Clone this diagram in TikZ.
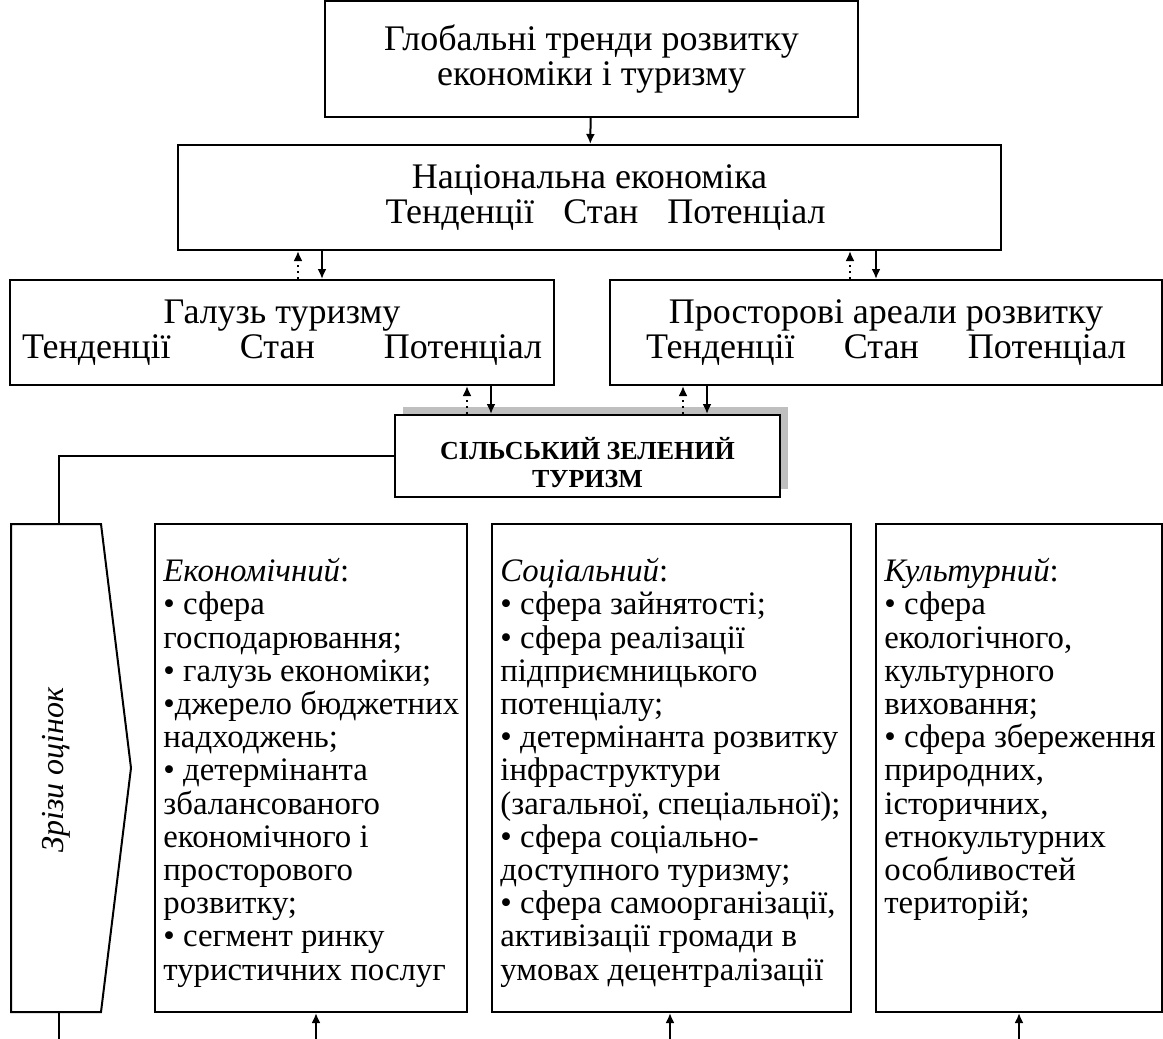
\documentclass[tikz,border=0pt]{standalone}
\usepackage{fontspec}
\setmainfont{Liberation Serif}
\usetikzlibrary{arrows.meta}
\definecolor{gray1}{rgb}{0.75,0.75,0.75}

\begin{document}
\begin{tikzpicture}[x=0.5pt,y=-0.5pt,>={Latex[length=5pt,width=4.5pt]},
  box/.style={draw,line width=1pt,inner sep=0pt,fill=white},
  txt/.style={font=\fontsize{18}{17.7}\selectfont,align=center},
  list/.style={font=\fontsize{16.4}{16.6}\selectfont,align=left,inner sep=0pt,anchor=north west},
  dn/.style={->,line width=1pt},
  up/.style={->,line width=1pt,dotted}]

  \useasboundingbox (0,0) rectangle (1163,1039);

  % upper level
  \node[box,txt,minimum width=266.5pt,minimum height=58pt] (glob) at (591.5,59)
    {Глобальні тренди розвитку\\економіки і туризму};
  \node[box,txt,minimum width=411.5pt,minimum height=52.5pt] (nat) at (589.5,197.5)
    {Національна економіка\\\hspace*{16pt}\makebox[220pt]{Тенденції\hfill Стан\hfill Потенціал}};
  \node[box,txt,minimum width=272pt,minimum height=52.5pt] (gal) at (282,332.5)
    {Галузь туризму\\\makebox[260pt]{Тенденції\hfill Стан\hfill Потенціал}};
  \node[box,txt,minimum width=276pt,minimum height=52.5pt] (pro) at (886,332.5)
    {Просторові ареали розвитку\\\makebox[240pt]{Тенденції\hfill Стан\hfill Потенціал}};

  % central box with shadow
  \fill[gray1] (403,407) rectangle (788,489);
  \node[box,minimum width=192.5pt,minimum height=41pt] (szt) at (587.5,456) {};
  \node[font=\fontsize{13}{14}\selectfont\bfseries,align=center] (sztt) at (587.5,463)
    {СІЛЬСЬКИЙ ЗЕЛЕНИЙ\\ТУРИЗМ};

  % arrows
  \draw[dn] (glob) -- (nat);
  \coordinate (a1) at (298,0);
  \coordinate (a2) at (322,0);
  \coordinate (a3) at (850,0);
  \coordinate (a4) at (876,0);
  \coordinate (a5) at (467,0);
  \coordinate (a6) at (491,0);
  \coordinate (a7) at (683,0);
  \coordinate (a8) at (707,0);
  \draw[up] (gal.north -| a1) -- (nat.south -| a1);
  \draw[dn] (nat.south -| a2) -- (gal.north -| a2);
  \draw[up] (pro.north -| a3) -- (nat.south -| a3);
  \draw[dn] (nat.south -| a4) -- (pro.north -| a4);
  \draw[up] (szt.north -| a5) -- (gal.south -| a5);
  \draw[dn] (gal.south -| a6) -- (szt.north -| a6);
  \draw[up] (szt.north -| a7) -- (pro.south -| a7);
  \draw[dn] (pro.south -| a8) -- (szt.north -| a8);

  % slices
  \coordinate (ptop) at (59,524);
  \coordinate (pbot) at (59,1012);
  \coordinate (pend) at (59,1039);
  \draw[line width=1pt] (11,524) -- (101,524) -- (131,768) -- (101,1012) -- (11,1012) -- cycle;
  \node[font=\fontsize{16}{18}\selectfont\itshape,rotate=90] (zriz) at (56,770) {Зрізи оцінок};
  \draw[line width=1pt] (szt.west) -| (ptop);
  \draw[line width=1pt] (pbot) -- (pend);

  \node[box,minimum width=156pt,minimum height=244pt] (eko) at (311,768) {};
  \node[box,minimum width=179.5pt,minimum height=244pt] (soc) at (671.5,768) {};
  \node[box,minimum width=143pt,minimum height=244pt] (kul) at (1019,768) {};

  \node[list] (ekot) at (163,558) {\textit{Економічний}:\\
    • сфера\\
    господарювання;\\
    • галузь економіки;\\
    •джерело бюджетних\\
    надходжень;\\
    • детермінанта\\
    збалансованого\\
    економічного і\\
    просторового\\
    розвитку;\\
    • сегмент ринку\\
    туристичних послуг};
  \node[list] (soct) at (500,558) {\textit{Соціальний}:\\
    • сфера зайнятості;\\
    • сфера реалізації\\
    підприємницького\\
    потенціалу;\\
    • детермінанта розвитку\\
    інфраструктури\\
    (загальної, спеціальної);\\
    • сфера соціально-\\
    доступного туризму;\\
    • сфера самоорганізації,\\
    активізації громади в\\
    умовах децентралізації};
  \node[list] (kult) at (884,558) {\textit{Культурний}:\\
    • сфера\\
    екологічного,\\
    культурного\\
    виховання;\\
    • сфера збереження\\
    природних,\\
    історичних,\\
    етнокультурних\\
    особливостей\\
    територій;};

  % inputs from below
  \coordinate (f2) at (316,1039);
  \coordinate (f3) at (670,1039);
  \coordinate (f4) at (1019,1039);
  \draw[dn] (f2) -- (f2 |- eko.south);
  \draw[dn] (f3) -- (f3 |- soc.south);
  \draw[dn] (f4) -- (f4 |- kul.south);

\end{tikzpicture}
\end{document}
